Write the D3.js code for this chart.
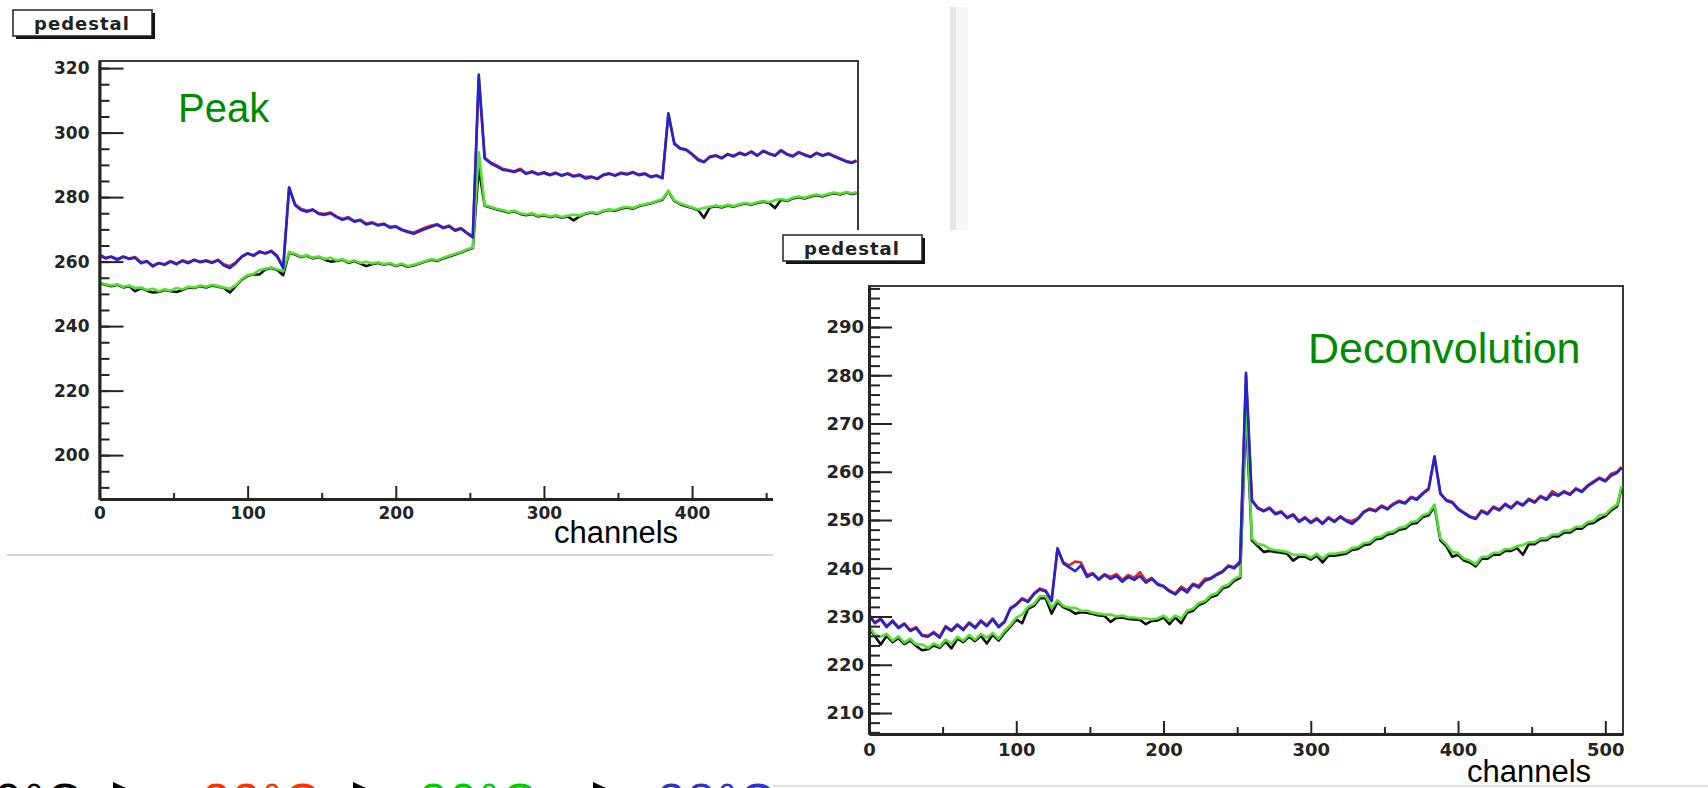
<!DOCTYPE html>
<html>
<head>
<meta charset="utf-8">
<script src="https://cdnjs.cloudflare.com/ajax/libs/d3/7.8.5/d3.min.js"></script>
<style>
  body { margin: 0; background: #fff; overflow: hidden; }
  svg { display: block; }
</style>
</head>
<body>
<svg id="chart" width="1708" height="788"></svg>
<script>
// channel index of every stored point (every 4th channel, plus the last one)
var channels = d3.range(0, 512, 4).concat([511]);

// ---- Peak mode pedestals (one row = 8 points = 32 channels)
var peakBlack = [
  253.3, 252.8, 252.4, 252.8, 252.0, 252.4, 250.8, 251.8,
  251.0, 250.4, 250.6, 251.2, 250.8, 250.6, 251.2, 252.0,
  251.8, 252.4, 252.0, 252.6, 252.2, 251.8, 250.4, 252.4,
  254.4, 255.6, 256.0, 256.0, 257.6, 258.0, 257.4, 255.8,
  262.8, 262.2, 261.4, 261.8, 261.0, 261.4, 260.6, 260.0,
  260.2, 260.6, 259.6, 260.2, 259.4, 258.6, 259.2, 259.6,
  259.0, 259.4, 258.6, 259.2, 258.4, 258.8, 259.4, 260.0,
  260.6, 260.2, 261.0, 261.6, 262.2, 262.8, 263.6, 264.2,
  289.0, 277.3, 276.8, 276.2, 275.8, 275.2, 275.6, 274.8,
  274.4, 274.8, 274.0, 274.4, 273.8, 274.2, 273.6, 274.0,
  272.8, 274.0, 274.8, 275.2, 274.8, 275.6, 276.0, 275.8,
  276.4, 276.8, 276.4, 277.2, 277.6, 278.0, 278.6, 279.2,
  281.8, 278.8, 277.8, 277.2, 276.6, 276.0, 273.6, 276.8,
  277.2, 276.8, 277.4, 277.0, 277.6, 278.0, 277.6, 278.2,
  278.6, 278.2, 276.6, 279.2, 278.8, 279.6, 280.0, 279.6,
  280.2, 280.6, 280.2, 280.8, 281.2, 280.8, 281.4, 281.0, 281.3
];
var peakRed = [
  262.2, 261.2, 261.6, 260.8, 261.6, 261.0, 261.4, 259.8,
  260.2, 258.8, 259.6, 259.2, 260.2, 259.4, 260.4, 259.8,
  260.6, 260.0, 260.4, 259.8, 260.6, 259.2, 258.6, 259.8,
  261.6, 262.6, 262.0, 263.2, 262.6, 263.4, 261.8, 258.4,
  283.0, 277.8, 276.4, 275.8, 276.2, 275.0, 274.8, 275.2,
  274.0, 273.2, 273.8, 272.6, 273.0, 271.8, 272.2, 271.4,
  271.8, 270.8, 271.0, 270.0, 269.4, 269.0, 269.8, 270.6,
  271.2, 271.6, 270.6, 271.2, 269.8, 270.4, 269.0, 267.8,
  317.0, 292.2, 290.8, 289.8, 288.8, 288.4, 288.0, 288.8,
  287.4, 288.0, 287.2, 287.8, 287.0, 287.6, 286.8, 287.4,
  286.6, 287.0, 286.2, 286.4, 285.8, 287.0, 287.4, 286.8,
  287.6, 287.2, 287.8, 287.0, 287.4, 286.4, 286.8, 286.0,
  305.6, 296.8, 295.2, 294.8, 293.4, 291.8, 291.0, 292.6,
  293.0, 292.2, 293.4, 292.8, 293.8, 293.2, 294.2, 293.0,
  294.4, 293.6, 293.0, 294.6, 293.4, 292.8, 294.0, 293.2,
  292.6, 293.8, 293.0, 293.6, 292.8, 292.0, 291.2, 290.8, 291.4
];
var peakGreen = [
  253.5, 253.0, 252.6, 253.0, 252.2, 252.6, 251.8, 252.0,
  251.2, 251.6, 250.8, 251.4, 251.0, 251.8, 251.4, 252.2,
  252.0, 252.6, 252.2, 252.8, 252.4, 252.0, 251.6, 252.6,
  254.6, 255.8, 256.2, 257.4, 257.8, 258.2, 257.6, 257.0,
  263.0, 262.4, 261.6, 262.0, 261.2, 261.6, 260.8, 261.2,
  260.4, 260.8, 259.8, 260.4, 259.6, 260.0, 259.4, 259.8,
  259.2, 259.6, 258.8, 259.4, 258.6, 259.0, 259.6, 260.2,
  260.8, 260.4, 261.2, 261.8, 262.4, 263.0, 263.8, 264.4,
  294.0, 277.5, 277.0, 276.4, 276.0, 275.4, 275.8, 275.0,
  274.6, 275.0, 274.2, 274.6, 274.0, 274.4, 273.8, 274.2,
  274.6, 274.2, 275.0, 275.4, 275.0, 275.8, 276.2, 276.0,
  276.6, 277.0, 276.6, 277.4, 277.8, 278.2, 278.8, 279.4,
  282.0, 279.0, 278.0, 277.4, 276.8, 276.2, 276.6, 277.0,
  277.4, 277.0, 277.6, 277.2, 277.8, 278.2, 277.8, 278.4,
  278.8, 278.4, 279.0, 279.4, 279.0, 279.8, 280.2, 279.8,
  280.4, 280.8, 280.4, 281.0, 281.4, 281.0, 281.6, 281.2, 281.5
];
var peakBlue = [
  262.0, 261.0, 261.5, 260.5, 261.5, 260.8, 261.2, 259.5,
  260.0, 258.5, 259.5, 259.0, 260.0, 259.2, 260.2, 259.5,
  260.5, 259.8, 260.2, 259.6, 260.4, 258.8, 258.0, 259.5,
  261.5, 262.5, 261.8, 263.0, 262.5, 263.2, 261.5, 258.0,
  283.0, 277.5, 276.0, 275.5, 276.0, 274.8, 274.5, 275.0,
  273.8, 273.0, 273.5, 272.4, 272.8, 271.5, 272.0, 271.2,
  271.6, 270.5, 270.8, 269.8, 269.2, 268.6, 269.4, 270.2,
  270.8, 271.5, 270.4, 270.9, 269.6, 270.2, 268.8, 267.5,
  318.0, 292.0, 290.5, 289.5, 288.5, 288.2, 287.8, 288.5,
  287.2, 287.8, 287.0, 287.5, 286.8, 287.4, 286.6, 287.2,
  286.4, 286.8, 285.8, 286.2, 285.6, 286.8, 287.2, 286.6,
  287.4, 287.0, 287.6, 286.8, 287.2, 286.2, 286.6, 285.8,
  306.0, 296.5, 295.0, 294.6, 293.2, 291.5, 290.8, 292.4,
  292.8, 292.0, 293.2, 292.6, 293.6, 293.0, 294.0, 292.8,
  294.2, 293.4, 292.8, 294.4, 293.2, 292.6, 293.8, 293.0,
  292.4, 293.6, 292.8, 293.4, 292.6, 291.8, 291.0, 290.6, 291.2
];

// ---- Deconvolution mode pedestals
var decoBlack = [
  227.6, 225.9, 224.2, 226.0, 224.7, 225.5, 224.3, 225.0,
  223.9, 223.0, 223.2, 224.0, 223.5, 224.8, 223.4, 225.4,
  224.7, 225.8, 224.9, 226.0, 224.4, 226.2, 225.0, 226.6,
  227.9, 229.4, 228.6, 231.6, 232.2, 233.8, 233.8, 230.6,
  233.0, 231.9, 231.4, 230.6, 230.9, 230.8, 230.5, 230.2,
  230.1, 228.9, 229.7, 229.8, 229.5, 229.4, 229.3, 228.4,
  229.1, 229.2, 229.8, 228.4, 229.8, 228.6, 230.8, 231.2,
  232.4, 232.9, 234.0, 234.4, 235.8, 236.2, 237.4, 238.0,
  272.0, 245.8, 244.6, 243.4, 243.6, 243.4, 243.2, 243.0,
  241.6, 242.4, 242.4, 241.8, 242.6, 241.2, 242.6, 242.6,
  242.8, 243.0, 243.8, 244.0, 244.8, 245.0, 246.0, 246.2,
  247.0, 247.2, 248.0, 248.2, 249.2, 249.4, 250.6, 251.0,
  252.8, 245.8, 244.6, 242.4, 242.8, 241.6, 241.2, 240.4,
  242.0, 242.0, 242.8, 242.8, 243.6, 243.6, 244.2, 242.8,
  245.0, 245.0, 245.8, 245.8, 246.6, 246.6, 247.4, 247.4,
  248.2, 248.2, 249.2, 249.4, 250.2, 250.8, 252.0, 252.8, 256.6
];
var decoRed = [
  230.4, 228.8, 229.6, 228.0, 229.2, 227.8, 228.6, 227.2,
  227.8, 226.2, 226.0, 226.8, 225.8, 228.0, 227.2, 228.4,
  227.4, 228.8, 227.8, 229.2, 228.2, 229.6, 228.0, 229.0,
  231.8, 232.6, 233.8, 233.2, 234.8, 235.8, 235.4, 233.4,
  244.2, 241.2, 240.6, 241.4, 241.2, 238.6, 239.0, 237.8,
  238.8, 238.2, 238.8, 237.6, 238.6, 238.0, 239.2, 237.4,
  238.0, 236.8, 236.4, 235.4, 234.8, 236.2, 235.4, 236.8,
  236.4, 237.8, 238.0, 238.8, 239.4, 240.6, 240.2, 241.4,
  280.0, 254.2, 252.6, 252.0, 252.6, 251.4, 251.8, 250.6,
  251.2, 249.8, 250.6, 249.6, 250.4, 249.4, 250.6, 249.8,
  250.8, 250.0, 249.8, 250.4, 251.8, 252.4, 252.0, 253.0,
  252.4, 253.4, 254.0, 253.6, 254.8, 254.4, 255.6, 256.6,
  263.0, 255.6, 254.2, 253.8, 252.4, 251.6, 250.8, 250.4,
  252.0, 251.4, 252.8, 252.2, 253.4, 252.6, 253.8, 253.2,
  254.4, 253.8, 255.0, 254.4, 256.0, 255.2, 256.0, 255.4,
  256.6, 256.0, 257.2, 258.0, 258.8, 258.2, 259.6, 260.0, 261.0
];
var decoGreen = [
  228.0, 226.2, 225.8, 226.4, 225.0, 225.9, 224.6, 225.4,
  224.2, 224.2, 223.5, 224.4, 223.8, 225.2, 224.4, 225.8,
  225.0, 226.2, 225.2, 226.4, 225.6, 226.6, 225.4, 227.0,
  228.2, 229.8, 230.4, 232.0, 232.6, 234.2, 234.2, 231.8,
  233.4, 232.2, 231.8, 231.8, 231.2, 231.2, 230.8, 230.6,
  230.4, 230.4, 230.0, 230.2, 229.8, 229.8, 229.6, 229.6,
  229.4, 229.6, 230.2, 229.2, 230.2, 229.6, 231.2, 231.6,
  232.8, 233.2, 234.4, 234.8, 236.2, 236.6, 237.8, 238.4,
  275.0, 246.2, 245.0, 244.8, 244.0, 243.8, 243.6, 243.4,
  242.8, 242.8, 242.8, 242.2, 243.0, 242.0, 243.0, 243.0,
  243.2, 243.4, 244.2, 244.4, 245.2, 245.4, 246.4, 246.6,
  247.4, 247.6, 248.4, 248.6, 249.6, 249.8, 251.0, 251.4,
  253.2, 246.2, 245.0, 243.4, 243.2, 242.0, 241.6, 240.8,
  242.4, 242.4, 243.2, 243.2, 244.0, 244.0, 244.6, 244.8,
  245.4, 245.4, 246.2, 246.2, 247.0, 247.0, 247.8, 247.8,
  248.6, 248.6, 249.6, 249.8, 251.0, 251.2, 252.4, 253.2, 257.0
];
var decoBlue = [
  230.2, 228.6, 229.4, 227.8, 229.0, 227.6, 228.4, 227.0,
  227.6, 226.0, 225.8, 226.6, 225.6, 227.8, 227.0, 228.2,
  227.2, 228.6, 227.6, 229.0, 228.0, 229.4, 227.8, 228.8,
  231.6, 232.4, 233.6, 233.0, 234.6, 235.6, 235.2, 233.2,
  244.0, 241.0, 240.2, 239.4, 240.6, 238.2, 238.8, 237.6,
  238.6, 237.8, 238.4, 237.2, 238.2, 237.6, 238.4, 237.0,
  237.8, 236.6, 236.2, 235.2, 234.6, 235.8, 235.0, 236.6,
  236.0, 237.4, 237.8, 238.6, 239.2, 240.4, 240.0, 241.2,
  280.5, 254.0, 252.4, 251.8, 252.4, 251.2, 251.6, 250.4,
  251.0, 249.6, 250.4, 249.4, 250.2, 249.2, 250.4, 249.6,
  250.6, 249.8, 249.2, 250.2, 251.6, 252.2, 251.8, 252.8,
  252.2, 253.2, 253.8, 253.4, 254.6, 254.2, 255.4, 256.4,
  263.2, 255.4, 254.0, 253.6, 252.2, 251.4, 250.6, 250.2,
  251.8, 251.2, 252.6, 252.0, 253.2, 252.4, 253.6, 253.0,
  254.2, 253.6, 254.8, 254.2, 255.4, 255.0, 255.8, 255.2,
  256.4, 255.8, 257.0, 257.8, 258.6, 258.0, 259.2, 259.8, 260.8
];

// axis ticks
var peakYTicks = [200, 220, 240, 260, 280, 300, 320];
var decoYTicks = [210, 220, 230, 240, 250, 260, 270, 280, 290];
var peakXTicks = [0, 100, 200, 300, 400];
var decoXTicks = [0, 100, 200, 300, 400, 500];
var xMinorTicks = [50, 150, 250, 350, 450];

// temperature legend along the bottom edge
var legendLabels = ["10°C", "22°C", "30°C", "38°C"];
var legendColors = ["#000000", "#ff3300", "#00cc00", "#3333cc"];

var seriesColors = { black: "#111111", red: "#d62828", green: "#55e030", blue: "#2323d2" };

var svg = d3.select("#chart");

function pedestalBox(x, y) {
  var g = svg.append("g");
  g.append("rect").attr("x", x + 3).attr("y", y + 3).attr("width", 139).attr("height", 26).attr("fill", "#111");
  g.append("rect").attr("x", x).attr("y", y).attr("width", 139).attr("height", 26)
    .attr("fill", "#fff").attr("stroke", "#222").attr("stroke-width", 1.5);
  g.append("text").attr("x", x + 69).attr("y", y + 20).attr("text-anchor", "middle")
    .attr("font-family", "DejaVu Sans").attr("font-weight", "bold").attr("font-size", 18)
    .attr("letter-spacing", 1).attr("fill", "#222").text("pedestal");
}

function drawPanel(p) {
  var x = d3.scaleLinear().domain([0, 512]).range([p.left, p.right]);
  var y = d3.scaleLinear().domain(p.yDomain).range([p.bottom, p.top]);
  var g = svg.append("g");

  g.append("rect")
    .attr("x", p.left).attr("y", p.top)
    .attr("width", p.right - p.left).attr("height", p.bottom - p.top)
    .attr("fill", "#fff").attr("stroke", "#3a3a3a").attr("stroke-width", 2);

  var line = d3.line()
    .x(function(d, i) { return x(channels[i]); })
    .y(function(d) { return y(d); });

  p.series.forEach(function(s) {
    g.append("path").datum(s.values)
      .attr("d", line)
      .attr("fill", "none")
      .attr("stroke", s.color)
      .attr("stroke-width", 2.6)
      .attr("stroke-linejoin", "round");
  });

  function styleAxis(a) {
    a.attr("color", "#242424");
    a.select(".domain").attr("stroke-width", 3);
    a.selectAll(".tick line").attr("stroke-width", 2);
    a.selectAll("text")
      .attr("font-family", "DejaVu Sans")
      .attr("font-weight", "bold")
      .attr("font-size", p.labelSize);
  }

  // y minor, then major ticks (ticks point into the frame, like ROOT)
  g.append("g").attr("transform", "translate(" + p.left + ",0)")
    .call(d3.axisLeft(y).tickValues(p.yMinor).tickSizeInner(-p.yMinorLen).tickSizeOuter(0).tickFormat(""))
    .call(function(a) { a.select(".domain").remove(); a.attr("color", "#242424"); a.selectAll("line").attr("stroke-width", 2); });
  g.append("g").attr("transform", "translate(" + p.left + ",0)")
    .call(d3.axisLeft(y).tickValues(p.yMajor).tickSizeInner(-p.yMajorLen).tickSizeOuter(0).tickPadding(p.yPad))
    .call(styleAxis);

  g.append("g").attr("transform", "translate(0," + p.bottom + ")")
    .call(d3.axisBottom(x).tickValues(xMinorTicks).tickSizeInner(-p.xMinorLen).tickSizeOuter(0).tickFormat(""))
    .call(function(a) { a.select(".domain").remove(); a.attr("color", "#242424"); a.selectAll("line").attr("stroke-width", 2); });
  g.append("g").attr("transform", "translate(0," + p.bottom + ")")
    .call(d3.axisBottom(x).tickValues(p.xMajor).tickSizeInner(-p.xMajorLen).tickSizeOuter(0).tickPadding(p.xPad))
    .call(styleAxis);

  g.append("text")
    .attr("x", p.titleX).attr("y", p.titleY)
    .attr("font-family", "Liberation Sans").attr("font-size", p.titleSize)
    .attr("fill", "#008a00").text(p.title);

  g.append("text")
    .attr("x", p.channelsX).attr("y", p.channelsY)
    .attr("font-family", "Liberation Sans").attr("font-size", 31)
    .attr("fill", "#000").text("channels");
}

// faint separator of the slide background
svg.append("rect").attr("x", 950).attr("y", 7).attr("width", 6).attr("height", 223).attr("fill", "#e6e6e6");
svg.append("rect").attr("x", 956).attr("y", 7).attr("width", 12).attr("height", 223).attr("fill", "#f6f6f6");
svg.append("line").attr("x1", 7).attr("x2", 773).attr("y1", 555).attr("y2", 555)
  .attr("stroke", "#d2d2d2").attr("stroke-width", 2);

// left panel: Peak
pedestalBox(13, 10);
drawPanel({
  left: 99.5, right: 858, top: 61, bottom: 499,
  yDomain: [186.4, 322.2],
  yMajor: peakYTicks, yMinor: d3.range(190, 321, 5),
  yMajorLen: 24, yMinorLen: 10, yPad: 10,
  xMajor: peakXTicks, xMajorLen: 13, xMinorLen: 6, xPad: 8,
  labelSize: 17,
  title: "Peak", titleX: 178, titleY: 122, titleSize: 40,
  channelsX: 554, channelsY: 543,
  series: [
    { values: peakBlack, color: seriesColors.black },
    { values: peakRed, color: seriesColors.red },
    { values: peakGreen, color: seriesColors.green },
    { values: peakBlue, color: seriesColors.blue }
  ]
});

// right panel sits on top of the lower right part of the left one
svg.append("rect").attr("x", 773).attr("y", 230).attr("width", 935).attr("height", 558).attr("fill", "#fff");
svg.append("line").attr("x1", 773).attr("x2", 1708).attr("y1", 786).attr("y2", 786)
  .attr("stroke", "#e2e2e2").attr("stroke-width", 2);

pedestalBox(783, 235);
drawPanel({
  left: 869, right: 1623, top: 286, bottom: 734,
  yDomain: [205.65, 298.5],
  yMajor: decoYTicks, yMinor: d3.range(206, 299, 2),
  yMajorLen: 23, yMinorLen: 11, yPad: 5,
  xMajor: decoXTicks, xMajorLen: 13, xMinorLen: 7, xPad: 9,
  labelSize: 18,
  title: "Deconvolution", titleX: 1308, titleY: 363, titleSize: 43,
  channelsX: 1467, channelsY: 782,
  series: [
    { values: decoBlack, color: seriesColors.black },
    { values: decoRed, color: seriesColors.red },
    { values: decoGreen, color: seriesColors.green },
    { values: decoBlue, color: seriesColors.blue }
  ]
});

// legend: temperatures separated by arrows, cut by the bottom edge
var legendX = [-35, 203, 420, 658];
var arrowX = [113, 353, 593];
legendLabels.forEach(function(lbl, i) {
  svg.append("text")
    .attr("x", legendX[i]).attr("y", 817)
    .attr("font-family", "Liberation Sans").attr("font-size", 48)
    .attr("letter-spacing", 3)
    .attr("fill", legendColors[i]).text(lbl);
});
arrowX.forEach(function(ax) {
  svg.append("path")
    .attr("d", "M" + ax + ",782 L" + ax + ",806 L" + (ax + 26) + ",794 Z")
    .attr("fill", "#000");
});
</script>
</body>
</html>
